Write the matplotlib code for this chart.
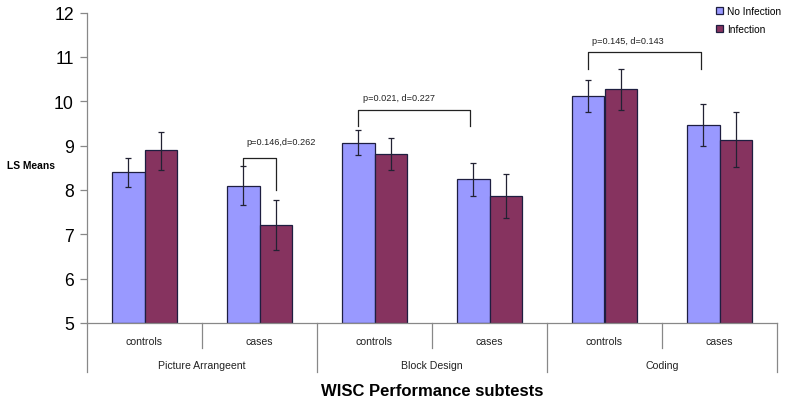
import matplotlib
matplotlib.use("Agg")
import matplotlib.pyplot as plt
import numpy as np

plt.rcParams['font.family'] = ['Liberation Sans', 'DejaVu Sans']

subtests = ["Picture Arrangeent", "Block Design", "Coding"]
groups = ["controls", "cases", "controls", "cases", "controls", "cases"]
series_names = ["No Infection", "Infection"]

no_inf = [8.40, 8.09, 9.06, 8.24, 10.11, 9.46]
no_inf_hi = [8.72, 8.53, 9.34, 8.61, 10.48, 9.93]
no_inf_lo = [8.06, 7.66, 8.79, 7.86, 9.75, 9.00]

inf = [8.89, 7.20, 8.80, 7.86, 10.27, 9.13]
inf_hi = [9.30, 7.78, 9.17, 8.35, 10.72, 9.75]
inf_lo = [8.44, 6.64, 8.44, 7.36, 9.80, 8.51]

yticks = [5, 6, 7, 8, 9, 10, 11, 12]

W, H = 788, 406
fig = plt.figure(figsize=(W / 100, H / 100), dpi=100)
ax = fig.add_axes([87 / W, 1 - 324 / H, 690 / W, 310.5 / H])

x = np.arange(len(groups))
bw = 0.283
blue = "#9999FF"
maroon = "#86335F"
edge = "#1E1E40"

def err(v, hi, lo):
    v = np.array(v); return [v - np.array(lo), np.array(hi) - v]

b1 = ax.bar(x - bw / 2, np.array(no_inf) - 5, bw, bottom=5, color=blue,
            edgecolor=edge, linewidth=0.9, label=series_names[0], zorder=2)
b2 = ax.bar(x + bw / 2, np.array(inf) - 5, bw, bottom=5, color=maroon,
            edgecolor=edge, linewidth=0.9, label=series_names[1], zorder=2)
ax.errorbar(x - bw / 2, no_inf, yerr=err(no_inf, no_inf_hi, no_inf_lo), fmt='none',
            ecolor="#222233", elinewidth=0.9, capsize=2.3, capthick=0.9, zorder=3)
ax.errorbar(x + bw / 2, inf, yerr=err(inf, inf_hi, inf_lo), fmt='none',
            ecolor="#222233", elinewidth=0.9, capsize=2.3, capthick=0.9, zorder=3)

ax.set_xlim(-0.5, len(groups) - 0.5)
ax.set_ylim(5, 12)
ax.set_yticks(yticks)
ax.set_yticklabels([str(t) for t in yticks], fontsize=12.7)
ax.tick_params(axis='y', length=5, width=0.9, color="#888888", pad=4.5)
ax.set_xticks([])
for s in ['top', 'right']:
    ax.spines[s].set_visible(False)
for s in ['left', 'bottom']:
    ax.spines[s].set_color("#888888")
    ax.spines[s].set_linewidth(0.9)

tr = ax.get_xaxis_transform()
# hierarchical x axis
for i, b in enumerate(np.arange(-0.5, len(groups), 1.0)):
    long_line = (i % 2 == 0)
    ax.plot([b, b], [0, -0.158 if long_line else -0.0805], transform=tr,
            color="#888888", lw=0.9, clip_on=False)
for xi, g in zip(x, groups):
    ax.text(xi, -0.058, g, transform=tr, ha='center', va='center', fontsize=7.6, color="#222222")
for k, st in enumerate(subtests):
    ax.text(2 * k + 0.5, -0.135, st, transform=tr, ha='center', va='center', fontsize=7.6, color="#222222")
ax.text(0.5, -0.219, "WISC Performance subtests", transform=ax.transAxes, ha='center',
        va='center', fontsize=12, fontweight='bold')
fig.text(31 / W, 1 - 166 / H, "LS Means", ha='center', va='center', fontsize=7.4, fontweight='bold')

# significance brackets
def bracket(x0, x1, ytop, yl, yr, label, tx, ty):
    ax.plot([x0, x0, x1, x1], [yl, ytop, ytop, yr], color="#222222", lw=0.9, zorder=4)
    ax.text(tx, ty, label, ha='center', va='center', fontsize=6.6, color="#222222")

bracket(1 - bw / 2, 1 + bw / 2, 8.72, 8.53, 7.99, "p=0.146,d=0.262", 1.187, 9.09)
bracket(2 - bw / 2, 3 - bw / 2 - 0.03, 9.81, 9.44, 9.44, "p=0.021, d=0.227", 2.213, 10.08)
bracket(4 - bw / 2, 5 - bw / 2 - 0.02, 11.11, 10.73, 10.73, "p=0.145, d=0.143", 4.20, 11.37)

fig.legend(handles=[b1, b2], loc='upper left', bbox_to_anchor=(716 / W, 1 - 7 / H),
           frameon=False, fontsize=7.3, handlelength=0.65, handleheight=0.65,
           handletextpad=0.45, labelspacing=0.78, borderpad=0, borderaxespad=0)

fig.savefig("out.png", dpi=100)
